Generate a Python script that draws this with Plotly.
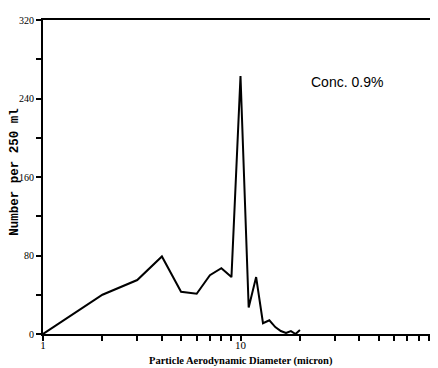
import plotly.graph_objects as go

diameter = [1, 2, 3, 4, 5, 6, 7, 8, 9, 10, 11, 12, 13, 14, 15, 16, 17, 18, 19, 20]
number = [0, 40, 55, 79, 43, 41, 60, 67, 58, 263, 27, 58, 11, 14, 7, 3, 1, 3, 0, 4]

x_tickvals = [1, 2, 3, 4, 5, 6, 7, 8, 9, 10, 20, 30, 40, 50, 60, 70, 80, 90, 100]
x_ticktext = ["1", "", "", "", "", "", "", "", "", "10", "", "", "", "", "", "", "", "", "100"]
y_tickvals = [0, 40, 80, 120, 160, 200, 240, 280, 320]
y_ticktext = ["0", "", "80", "", "160", "", "240", "", "320"]

serif = "Liberation Serif"

fig = go.Figure()
fig.add_trace(go.Scatter(x=diameter, y=number, mode="lines",
                         line=dict(color="black", width=2), showlegend=False))

# page body has an 8px default margin, so the figure is sized/offset to compensate
fig.update_layout(
    width=430, height=360,
    margin=dict(l=35, r=0, t=12, b=34, autoexpand=False),
    paper_bgcolor="white", plot_bgcolor="white",
    xaxis=dict(type="log", range=[0, 2], tickvals=x_tickvals, ticktext=x_ticktext,
               ticks="outside", ticklen=5, tickwidth=1.5, tickcolor="black",
               showline=True, linecolor="black", linewidth=2, mirror=True,
               showgrid=False, zeroline=False, automargin=False,
               ticklabelstandoff=-5,
               tickfont=dict(family=serif, size=11, color="black")),
    yaxis=dict(range=[0, 320], tickvals=y_tickvals, ticktext=y_ticktext,
               ticks="outside", ticklen=5, tickwidth=1.5, tickcolor="black",
               showline=True, linecolor="black", linewidth=2,
               showgrid=False, zeroline=False, automargin=False,
               tickfont=dict(family=serif, size=10, color="black")),
    annotations=[
        dict(text="<b>Particle Aerodynamic Diameter (micron)</b>", xref="paper", yref="paper",
             x=0.5, y=-0.085, xanchor="center", yanchor="middle", showarrow=False,
             font=dict(family=serif, size=10.5, color="black")),
        dict(text="<b>Number per 250 ml</b>", xref="paper", yref="paper",
             x=-0.073, y=0.517, xanchor="center", yanchor="middle", textangle=-90,
             showarrow=False, font=dict(family="Liberation Mono", size=12.5, color="black")),
        dict(text="Conc. 0.9%", xref="paper", yref="paper",
             x=0.77, y=0.803, xanchor="center", yanchor="middle", showarrow=False,
             font=dict(family="Liberation Sans", size=14, color="black")),
        dict(text="<b>100</b>", xref="paper", yref="paper",
             x=1.0, y=-0.018, xanchor="center", yanchor="top", showarrow=False,
             font=dict(family=serif, size=11, color="black")),
    ],
)

fig.write_html("out.html")
